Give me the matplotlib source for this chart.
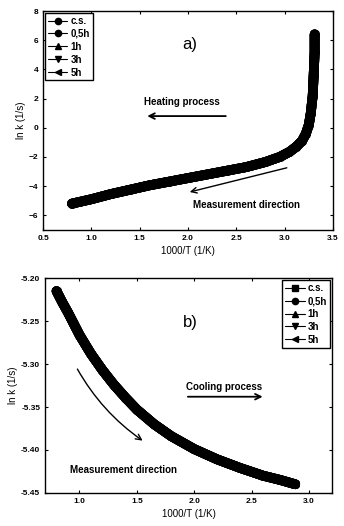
import matplotlib.pyplot as plt

plt.rcParams['font.family'] = ['Liberation Sans', 'DejaVu Sans']
plt.rcParams['font.weight'] = 'bold'

# Panel a) heating process
heat_x = [0.80, 0.90, 1.00, 1.20, 1.40, 1.60, 1.80, 2.00, 2.20, 2.40, 2.60,
          2.80, 2.95, 3.05, 3.12, 3.18, 3.22, 3.25, 3.27, 3.29, 3.30, 3.31, 3.31]
heat_y = [-5.20, -5.05, -4.90, -4.55, -4.25, -3.95, -3.70, -3.45, -3.20, -2.95, -2.70,
          -2.35, -2.00, -1.65, -1.30, -0.90, -0.40, 0.20, 1.00, 2.20, 3.60, 5.20, 6.40]

# Panel b) cooling process
cool_x = [0.80, 0.85, 0.90, 1.00, 1.10, 1.20, 1.30, 1.40, 1.50, 1.65, 1.80,
          2.00, 2.20, 2.40, 2.60, 2.75, 2.88]
cool_y = [-5.215, -5.228, -5.240, -5.266, -5.288, -5.307, -5.324, -5.339, -5.353,
          -5.370, -5.384, -5.399, -5.411, -5.421, -5.430, -5.435, -5.440]

labels = ['c.s.', '0,5h', '1h', '3h', '5h']
markers_a = ['o', 'o', '^', 'v', '<']
markers_b = ['s', 'o', '^', 'v', '<']

fig = plt.figure(figsize=(3.44, 5.26), dpi=100)
ax1 = fig.add_axes([0.125, 0.563, 0.843, 0.416])
ax2 = fig.add_axes([0.131, 0.063, 0.834, 0.408])

tick_kw = dict(direction='in', labelsize=6, length=2.5, width=0.8)
leg_kw = dict(fontsize=7, handlelength=2.0, handletextpad=0.3, labelspacing=0.3,
              borderpad=0.3, borderaxespad=0.2, fancybox=False,
              edgecolor='black', framealpha=1)

# panel a
for lab, m in zip(labels, markers_a):
    ax1.plot(heat_x, heat_y, color='black', lw=7, marker=m, ms=5,
             solid_capstyle='round', label=lab)
ax1.set_xlim(0.5, 3.5)
ax1.set_ylim(-7, 8)
ax1.set_xticks([0.5, 1.0, 1.5, 2.0, 2.5, 3.0, 3.5])
ax1.set_yticks([-6, -4, -2, 0, 2, 4, 6, 8])
ax1.tick_params(**tick_kw, top=True, right=True)
ax1.set_xlabel('1000/T (1/K)', fontsize=7, labelpad=3)
ax1.set_ylabel('ln k (1/s)', fontsize=7, labelpad=2)
ax1.text(2.02, 5.7, 'a)', fontsize=12, ha='center', va='center', fontweight='normal')
ax1.text(1.55, 1.75, 'Heating process', fontsize=7, ha='left', va='center')
ax1.annotate('', xy=(1.55, 0.8), xytext=(2.42, 0.8),
             arrowprops=dict(arrowstyle='->', lw=1.3, color='black'))
ax1.text(2.05, -5.3, 'Measurement direction', fontsize=7, ha='left', va='center')
ax1.annotate('', xy=(1.99, -4.45), xytext=(3.05, -2.7),
             arrowprops=dict(arrowstyle='->', lw=1.0, color='black'))
leg1 = ax1.legend(loc='upper left', **leg_kw)
for h in leg1.legend_handles:
    h.set_linewidth(0.8)
    h.set_markersize(4.5)

# panel b
for lab, m in zip(labels, markers_b):
    ax2.plot(cool_x, cool_y, color='black', lw=7, marker=m, ms=5,
             solid_capstyle='round', label=lab)
ax2.set_xlim(0.7, 3.2)
ax2.set_ylim(-5.45, -5.20)
ax2.set_xticks([1.0, 1.5, 2.0, 2.5, 3.0])
ax2.set_yticks([-5.45, -5.40, -5.35, -5.30, -5.25, -5.20])
ax2.set_yticklabels(['-5.45', '-5.40', '-5.35', '-5.30', '-5.25', '-5.20'])
ax2.tick_params(**tick_kw, top=True, right=True)
ax2.set_xlabel('1000/T (1/K)', fontsize=7, labelpad=3)
ax2.set_ylabel('ln k (1/s)', fontsize=7, labelpad=2)
ax2.text(1.97, -5.251, 'b)', fontsize=12, ha='center', va='center', fontweight='normal')
ax2.text(1.93, -5.327, 'Cooling process', fontsize=7, ha='left', va='center')
ax2.annotate('', xy=(2.62, -5.338), xytext=(1.92, -5.338),
             arrowprops=dict(arrowstyle='->', lw=1.3, color='black'))
ax2.text(0.92, -5.423, 'Measurement direction', fontsize=7, ha='left', va='center')
ax2.annotate('', xy=(1.57, -5.391), xytext=(0.97, -5.303),
             arrowprops=dict(arrowstyle='->', lw=1.0, color='black',
                             connectionstyle='arc3,rad=0.12'))
leg2 = ax2.legend(loc='upper right', **leg_kw)
for h in leg2.legend_handles:
    h.set_linewidth(0.8)
    h.set_markersize(4.5)

for ax in (ax1, ax2):
    for s in ax.spines.values():
        s.set_linewidth(1.0)

fig.savefig('out.png', dpi=100)
